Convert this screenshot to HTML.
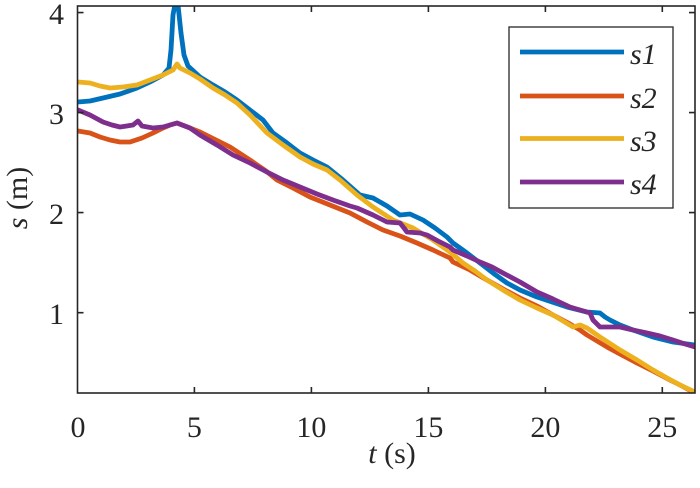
<!DOCTYPE html>
<html>
<head>
<meta charset="utf-8">
<style>
html,body{margin:0;padding:0;background:#fff;}
#w{position:relative;width:700px;height:488px;overflow:hidden;}
svg{display:block;position:absolute;left:0;top:0;}
.t{position:absolute;font-family:"Liberation Serif","Times New Roman","Noto Serif CJK SC",serif;font-size:30px;line-height:30px;height:30px;color:#262626;white-space:nowrap;}
.yl{width:40px;left:24px;text-align:right;}
.xl{width:60px;text-align:center;}
.i{font-style:italic;}
</style>
</head>
<body>
<div id="w">
<svg width="700" height="488" viewBox="0 0 700 488" xmlns="http://www.w3.org/2000/svg">
<defs>
<clipPath id="c"><rect x="77.5" y="6" width="617.5" height="387"/></clipPath>
</defs>
<rect width="700" height="488" fill="#fff"/>
<g clip-path="url(#c)" fill="none" stroke-width="4.8" stroke-linejoin="round" stroke-linecap="round">
<polyline stroke="#0072BD" points="78,102 90,101 103,98 120,94 137,88 150,82 163,75 169,68 171,50 173,15 175,4 178,5 181,33 184,55 188,66 200,77 213,85 225,92 237,100 250,110 263,120 273,133 287,143 300,153 313,160 327,167 343,180 360,195 373,198 387,206 400,215 410,214 423,220 435,228 447,237 453,243 467,253 480,263 493,273 507,283 520,290 537,297 552,302 567,307 587,312 600,313 605,317 610,320 620,325 633,330 653,337 673,342 695,345"/>
<polyline stroke="#D95319" points="78,131 90,133 100,137 110,140 120,142 130,142 142,138 153,133 163,128 170,125 177,123 190,128 200,132 210,137 230,147 250,160 266,171 277,180 293,188 310,197 330,205 350,213 367,222 383,230 400,236 417,243 433,250 450,258 453,262 470,270 487,280 503,289 520,298 537,306 553,315 570,324 580,330 587,335 597,341 607,347 620,354 637,363 653,371 670,380 682,386 695,393"/>
<polyline stroke="#EDB120" points="78,82 90,83 100,86 110,88 123,87 137,85 150,80 163,75 173,70 177,64 180,68 190,73 200,79 213,88 225,95 237,103 250,115 267,133 283,145 300,157 313,164 327,170 340,180 357,195 373,207 393,220 413,228 433,240 450,252 463,263 475,271 487,280 503,290 520,300 537,308 553,315 573,327 580,325 587,328 600,337 620,350 637,360 653,370 667,378 680,385 695,392"/>
<polyline stroke="#7E2F8E" points="78,110 90,115 103,122 112,125 120,127 133,125 138,121 142,126 153,128 163,127 170,125 177,123 190,128 200,135 217,145 233,155 250,163 267,172 283,180 300,187 317,194 333,200 350,206 357,208 373,215 387,222 400,223 404,228 407,232 420,233 427,235 438,241 450,247 453,250 467,256 480,262 492,267 503,273 520,282 537,292 553,299 570,307 590,313 593,320 600,327 620,327 633,330 647,333 660,336 673,340 685,344 695,347"/>
</g>
<g stroke="#262626" stroke-width="1.6" fill="none">
<rect x="77.5" y="6" width="617.5" height="387"/>
<path d="M194.4,393v-6M311.4,393v-6M428.4,393v-6M545.4,393v-6M662.3,393v-6"/>
<path d="M194.4,6v6M311.4,6v6M428.4,6v6M545.4,6v6M662.3,6v6"/>
<path d="M77.5,12.6h6M77.5,112.6h6M77.5,212.6h6M77.5,312.7h6"/>
<path d="M695,12.6h-6M695,112.6h-6M695,212.6h-6M695,312.7h-6"/>
</g>
<rect x="509" y="27" width="164" height="181" fill="#fff" stroke="#262626" stroke-width="1.3"/>
<g stroke-width="4.8">
<line x1="520" y1="52" x2="624" y2="52" stroke="#0072BD"/>
<line x1="520" y1="96" x2="624" y2="96" stroke="#D95319"/>
<line x1="520" y1="138.5" x2="624" y2="138.5" stroke="#EDB120"/>
<line x1="520" y1="182" x2="624" y2="182" stroke="#7E2F8E"/>
</g>
</svg>

<div class="t yl" style="top:0px">4</div>
<div class="t yl" style="top:100px">3</div>
<div class="t yl" style="top:200px">2</div>
<div class="t yl" style="top:300px">1</div>

<div class="t xl" style="top:413px;left:48px">0</div>
<div class="t xl" style="top:413px;left:164.4px">5</div>
<div class="t xl" style="top:413px;left:281.4px">10</div>
<div class="t xl" style="top:413px;left:398.4px">15</div>
<div class="t xl" style="top:413px;left:515.4px">20</div>
<div class="t xl" style="top:413px;left:632.3px">25</div>

<div class="t" style="top:439px;left:332px;width:120px;text-align:center"><span class="i">t</span> (s)</div>
<div class="t" style="top:183px;left:-42px;width:120px;text-align:center;transform:rotate(-90deg);transform-origin:center center"><span class="i">s</span> (m)</div>

<div class="t i" style="top:40px;left:630px">s1</div>
<div class="t i" style="top:84px;left:630px">s2</div>
<div class="t i" style="top:127px;left:630px">s3</div>
<div class="t i" style="top:170px;left:630px">s4</div>
</div>
</body>
</html>
